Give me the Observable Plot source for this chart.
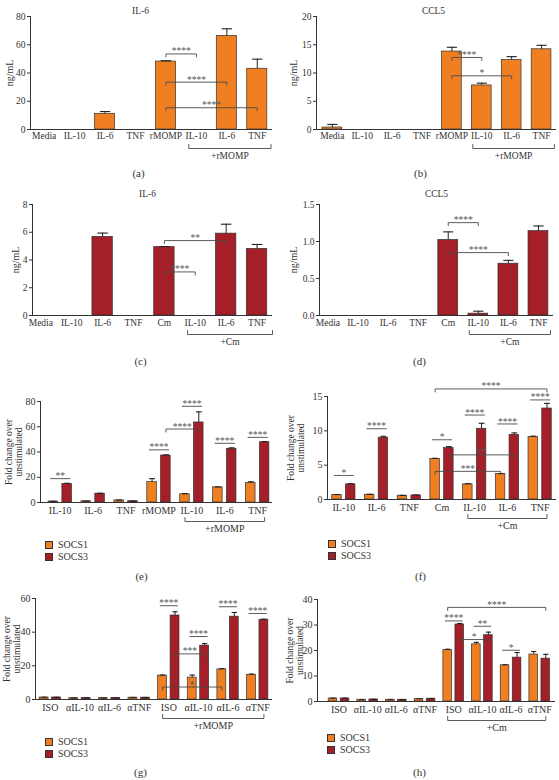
<!DOCTYPE html>
<html><head><meta charset="utf-8">
<script src="https://cdn.jsdelivr.net/npm/d3@7"></script>
<script src="https://cdn.jsdelivr.net/npm/@observablehq/plot@0.6"></script>
<style>
body{margin:0;background:#fff;}
#root{position:relative;width:559px;height:780px;overflow:hidden;font-family:"Liberation Serif",serif;color:#333;}
.panel{position:absolute;}
.legend{position:absolute;font-size:10px;line-height:12px;color:#333;}
.legend div{display:flex;align-items:center;height:12px;}
.legend span.sw{display:inline-block;width:6px;height:6px;border:1px solid #333;margin-right:5px;}
</style></head><body><div id="root"></div>
<script>
// ---------------- data ----------------
const catsRmomp = ["Media","IL-10","IL-6","TNF","rMOMP","IL-10","IL-6","TNF"];
const catsCm = ["Media","IL-10","IL-6","TNF","Cm","IL-10","IL-6","TNF"];
const il6Rmomp = [0, 0, 11.1, 0, 48.1, 0, 66.3, 43.0];
const il6RmompErr = [0, 0, 1.6, 0, 0.6, 0, 5.0, 6.8];
const ccl5Rmomp = [0.35, 0, 0, 0, 13.8, 7.8, 12.3, 14.2];
const ccl5RmompErr = [0.55, 0, 0, 0, 0.75, 0.4, 0.6, 0.7];
const il6Cm = [0, 0, 5.67, 0, 4.93, 0, 5.9, 4.8];
const il6CmErr = [0, 0, 0.27, 0, 0.04, 0, 0.68, 0.32];
const ccl5Cm = [0, 0, 0, 0, 1.02, 0.025, 0.70, 1.14];
const ccl5CmErr = [0, 0, 0, 0, 0.11, 0.033, 0.045, 0.07];

const groupsRmomp = ["IL-10","IL-6","TNF","rMOMP","IL-10","IL-6","TNF"];
const groupsCm = ["IL-10","IL-6","TNF","Cm","IL-10","IL-6","TNF"];
const socs1Rmomp = [0.8, 1.0, 1.7, 16.2, 6.5, 12.0, 15.4];
const socs1RmompErr = [0.1, 0.1, 0.2, 2.7, 0.5, 0.3, 1.0];
const socs3Rmomp = [14.7, 7.0, 1.0, 37.2, 63.4, 42.5, 47.7];
const socs3RmompErr = [0.5, 0.3, 0.1, 0.5, 8.4, 0.8, 0.6];
const socs1Cm = [0.67, 0.7, 0.55, 5.9, 2.2, 3.7, 9.1];
const socs1CmErr = [0.05, 0.05, 0.05, 0.1, 0.1, 0.08, 0.12];
const socs3Cm = [2.2, 9.0, 0.6, 7.5, 10.3, 9.4, 13.25];
const socs3CmErr = [0.1, 0.2, 0.05, 0.2, 0.8, 0.3, 0.75];

const groupsNeut = ["ISO","αIL-10","αIL-6","αTNF","ISO","αIL-10","αIL-6","αTNF"];
const socs1NeutRmomp = [1.2, 0.8, 0.8, 1.1, 14.2, 13.0, 17.9, 14.7];
const socs1NeutRmompErr = [0.1, 0.05, 0.05, 0.1, 0.3, 1.5, 0.4, 0.4];
const socs3NeutRmomp = [1.2, 0.9, 0.9, 1.1, 49.9, 32.0, 49.2, 47.4];
const socs3NeutRmompErr = [0.1, 0.05, 0.05, 0.1, 2.2, 1.2, 2.5, 0.3];
const socs1NeutCm = [1.2, 0.7, 0.7, 1.0, 20.2, 22.4, 14.2, 18.4];
const socs1NeutCmErr = [0.1, 0.05, 0.05, 0.05, 0.3, 0.8, 0.2, 1.2];
const socs3NeutCm = [1.2, 0.8, 0.7, 1.1, 30.2, 26.0, 17.2, 16.8];
const socs3NeutCmErr = [0.1, 0.05, 0.05, 0.05, 0.4, 1.2, 2.0, 1.7];

// significance brackets (values in y-units)
const bracketsA = [{from:4,to:5,y:53.5,label:"****"},{from:4,to:6,y:33.5,label:"****"},{from:4,to:7,y:15.4,label:"****"}];
const bracketsB = [{from:4,to:5,y:12.75,label:"****"},{from:4,to:6,y:9.5,label:"*"}];
const bracketsC = [{from:4,to:6,y:5.4,label:"**"},{from:4,to:5,y:3.14,label:"****"}];
const bracketsD = [{from:4,to:5,y:1.255,label:"****"},{from:4,to:6,y:0.85,label:"****"}];
const pairsE = [{group:0,y:18.9,label:"**"},{group:3,y:41.7,label:"****"},{group:4,y:76.2,label:"****"},{group:5,y:46.9,label:"****"},{group:6,y:51.6,label:"****"}];
const crossE = [{from:3,fromS:"SOCS3",to:4,toS:"SOCS3",y:58.2,label:"****"}];
const pairsF = [{group:0,y:3.5,label:"*"},{group:1,y:10.3,label:"****"},{group:3,y:8.7,label:"*"},{group:4,y:12.3,label:"****"},{group:5,y:11.0,label:"****"},{group:6,y:14.5,label:"****"}];
const crossF = [{from:3,fromS:"SOCS1",to:6,toS:"SOCS3",y:16.1,label:"****"},{from:3,fromS:"SOCS3",to:5,toS:"SOCS3",y:6.5,label:"**"},{from:3,fromS:"SOCS1",to:5,toS:"SOCS1",y:4.1,label:"***"}];
const pairsG = [{group:4,y:55.7,label:"****"},{group:5,y:37.4,label:"****"},{group:6,y:55.1,label:"****"},{group:7,y:51.1,label:"****"}];
const crossG = [{from:4,fromS:"SOCS3",to:5,toS:"SOCS3",y:27.1,label:"***"},{from:4,fromS:"SOCS1",to:6,toS:"SOCS1",y:7.4,label:"*"}];
const pairsH = [{group:4,y:31.6,label:"****"},{group:5,y:29.5,label:"**"},{group:6,y:20.1,label:"*"}];
const crossH = [{from:4,fromS:"SOCS1",to:7,toS:"SOCS3",y:36.9,label:"****"},{from:4,fromS:"SOCS3",to:5,toS:"SOCS3",y:24.3,label:"*"}];

const seriesNames = ["SOCS1","SOCS3"];

// ---------------- styling ----------------
const ORANGE = "#F07F22", RED = "#A41F27";
const seriesColor = {SOCS1: ORANGE, SOCS3: RED};
const seriesOffset = {SOCS1: -0.21, SOCS3: 0.21};
const INK = "#333", BR = "#4a4a4a";
const root = document.getElementById("root");

function singleBars(values, errs, color) {
  return values.map((v, i) => ({pos: i, value: v, err: errs[i], fill: color}));
}
function groupedBars(s1, e1, s3, e3) {
  return [
    ...s1.map((v, i) => ({pos: i + seriesOffset.SOCS1, value: v, err: e1[i], fill: seriesColor.SOCS1})),
    ...s3.map((v, i) => ({pos: i + seriesOffset.SOCS3, value: v, err: e3[i], fill: seriesColor.SOCS3}))
  ];
}
const singleBr = (arr) => arr.map(b => ({x1: b.from, x2: b.to, y: b.y, label: b.label, drop: true}));
const pairBr = (arr) => arr.map(b => ({x1: b.group - 0.3, x2: b.group + 0.3, y: b.y, label: b.label, drop: false}));
const crossBr = (arr) => arr.map(b => ({x1: b.from + seriesOffset[b.fromS], x2: b.to + seriesOffset[b.toS], y: b.y, label: b.label, drop: true}));

function drawPanel(c) {
  const innerH = c.height - c.mt - c.mb;
  const k = px => px * (c.yDomain[1] - c.yDomain[0]) / innerH;
  const bars = c.bars.filter(d => d.value > 0);
  const eb = c.bars.filter(d => d.err > 0);
  const brPts = c.brackets.flatMap((b, j) => {
    const d = b.drop ? k(3) : 0;
    return [{x: b.x1, y: b.y - d, id: j}, {x: b.x1, y: b.y, id: j}, {x: b.x2, y: b.y, id: j}, {x: b.x2, y: b.y - d, id: j}];
  });
  const span = c.groupSpan;
  const spanPts = [{x: span[0], y: k(4)}, {x: span[0], y: 0}, {x: span[1], y: 0}, {x: span[1], y: k(4)}];
  const marks = [
    Plot.ruleY([0], {stroke: INK, strokeWidth: 1}),
    Plot.rect(bars, {x1: d => d.pos - c.hw, x2: d => d.pos + c.hw, y1: 0, y2: "value", fill: "fill", stroke: "#333", strokeWidth: 0.7}),
    Plot.ruleX(eb, {x: "pos", y1: "value", y2: d => d.value + d.err, stroke: "#222", strokeWidth: 1}),
    Plot.link(eb, {x1: d => d.pos - c.cap, x2: d => d.pos + c.cap, y1: d => d.value + d.err, y2: d => d.value + d.err, stroke: "#222", strokeWidth: 1.1}),
    Plot.line(brPts, {x: "x", y: "y", z: "id", stroke: BR, strokeWidth: 0.9}),
    Plot.text(c.brackets, {x: d => (d.x1 + d.x2) / 2, y: "y", text: "label", lineAnchor: "middle", dy: -2.5, fill: "#555", fontSize: 9.5}),
    Plot.line(spanPts, {x: "x", y: "y", dy: 19, stroke: BR, strokeWidth: 0.9}),
    Plot.text([c.groupLabel], {x: (span[0] + span[1]) / 2, y: 0, text: d => d, dy: 26, lineAnchor: "middle", fill: INK, fontSize: c.tickFont}),
    Plot.text([c.yLabel], {frameAnchor: "left", dx: c.yLabelX - c.ml, rotate: -90, text: d => d, textAnchor: "middle", lineAnchor: "middle", lineHeight: 1.05, fill: INK, fontSize: c.yLabelFont}),
    Plot.text([c.letter], {frameAnchor: "top-left", dx: c.letterPos[0] - c.ml, dy: c.letterPos[1] - c.mt, text: d => d, textAnchor: "middle", lineAnchor: "middle", fill: INK, fontSize: 11})
  ];
  if (c.title) marks.push(Plot.text([c.title], {frameAnchor: "top-left", dx: c.titlePos[0] - c.ml, dy: c.titlePos[1] - c.mt, text: d => d, textAnchor: "middle", lineAnchor: "middle", fill: INK, fontSize: 9.5}));
  const chart = Plot.plot({
    width: c.width, height: c.height,
    marginLeft: c.ml, marginRight: c.mr, marginTop: c.mt, marginBottom: c.mb,
    style: {background: "transparent", overflow: "visible", fontFamily: "'Liberation Serif', serif", fontSize: c.tickFont + "px", color: INK},
    color: {type: "identity"},
    x: {type: "linear", domain: c.xDomain, ticks: c.labels.map((_, i) => i), tickFormat: i => c.labels[i], tickSize: 0, tickPadding: c.tickPad, label: null},
    y: {domain: c.yDomain, ticks: c.yTicks, tickFormat: c.yFormat || (d => d), tickSize: 3, tickPadding: 2, line: true, label: null},
    marks
  });
  const div = document.createElement("div");
  div.className = "panel";
  div.style.left = c.left + "px";
  div.style.top = c.top + "px";
  div.appendChild(chart);
  root.appendChild(div);
  if (c.legend) {
    const lg = document.createElement("div");
    lg.className = "legend";
    lg.style.left = (c.left + c.legend[0]) + "px";
    lg.style.top = (c.top + c.legend[1] - 6) + "px";
    seriesNames.forEach(s => {
      const row = document.createElement("div");
      const sw = document.createElement("span");
      sw.className = "sw";
      sw.style.background = seriesColor[s];
      row.appendChild(sw);
      row.appendChild(document.createTextNode(s));
      lg.appendChild(row);
    });
    root.appendChild(lg);
  }
}

const FOLD = "Fold change over\nunstimulated";

// (a)
drawPanel({left: 0, top: 0, width: 280, height: 180, ml: 30, mr: 8, mt: 16, mb: 51,
  xDomain: [-0.45, 7.5], yDomain: [0, 80], yTicks: [0, 20, 40, 60, 80], labels: catsRmomp,
  bars: singleBars(il6Rmomp, il6RmompErr, ORANGE), hw: 0.33, cap: 0.17,
  brackets: singleBr(bracketsA), groupSpan: [4.75, 7.45], groupLabel: "+rMOMP",
  title: "IL-6", titlePos: [140, 10], letter: "(a)", letterPos: [138, 173],
  yLabel: "ng/mL", yLabelX: 9, yLabelFont: 10, tickFont: 9.5, tickPad: 3});
// (b)
drawPanel({left: 280, top: 0, width: 279, height: 180, ml: 36, mr: 3, mt: 16, mb: 51,
  xDomain: [-0.53, 7.5], yDomain: [0, 20], yTicks: [0, 5, 10, 15, 20], labels: catsRmomp,
  bars: singleBars(ccl5Rmomp, ccl5RmompErr, ORANGE), hw: 0.33, cap: 0.17,
  brackets: singleBr(bracketsB), groupSpan: [4.7, 7.43], groupLabel: "+rMOMP",
  title: "CCL5", titlePos: [153, 10], letter: "(b)", letterPos: [140, 173],
  yLabel: "ng/mL", yLabelX: 13.5, yLabelFont: 10, tickFont: 9.5, tickPad: 3});
// (c)
drawPanel({left: 0, top: 180, width: 280, height: 190, ml: 32, mr: 8, mt: 24, mb: 55,
  xDomain: [-0.27, 7.5], yDomain: [0, 8], yTicks: [0, 2, 4, 6, 8], labels: catsCm,
  bars: singleBars(il6Cm, il6CmErr, RED), hw: 0.33, cap: 0.17,
  brackets: singleBr(bracketsC), groupSpan: [4.75, 7.5], groupLabel: "+Cm",
  title: "IL-6", titlePos: [147, 13], letter: "(c)", letterPos: [140, 181],
  yLabel: "ng/mL", yLabelX: 15, yLabelFont: 10, tickFont: 9.5, tickPad: 4});
// (d)
drawPanel({left: 280, top: 180, width: 279, height: 190, ml: 39, mr: 6, mt: 24, mb: 55,
  xDomain: [-0.28, 7.5], yDomain: [0, 1.5], yTicks: [0, 0.5, 1, 1.5], yFormat: d3.format(".1f"), labels: catsCm,
  bars: singleBars(ccl5Cm, ccl5CmErr, RED), hw: 0.33, cap: 0.17,
  brackets: singleBr(bracketsD), groupSpan: [4.7, 7.4], groupLabel: "+Cm",
  title: "CCL5", titlePos: [156, 13], letter: "(d)", letterPos: [139, 181],
  yLabel: "ng/mL", yLabelX: 13.5, yLabelFont: 10, tickFont: 9.5, tickPad: 4});
// (e)
drawPanel({left: 0, top: 360, width: 280, height: 222, ml: 40, mr: 8, mt: 41, mb: 80,
  xDomain: [-0.6, 6.45], yDomain: [0, 80], yTicks: [0, 20, 40, 60, 80], labels: groupsRmomp,
  bars: groupedBars(socs1Rmomp, socs1RmompErr, socs3Rmomp, socs3RmompErr), hw: 0.145, cap: 0.09,
  brackets: [...pairBr(pairsE), ...crossBr(crossE)], groupSpan: [3.79, 6.21], groupLabel: "+rMOMP",
  letter: "(e)", letterPos: [141, 216], legend: [45, 185],
  yLabel: FOLD, yLabelX: 13, yLabelFont: 9.5, tickFont: 10, tickPad: 4});
// (f)
drawPanel({left: 280, top: 360, width: 279, height: 222, ml: 47, mr: 3, mt: 36, mb: 83,
  xDomain: [-0.5, 6.5], yDomain: [0, 15], yTicks: [0, 5, 10, 15], labels: groupsCm,
  bars: groupedBars(socs1Cm, socs1CmErr, socs3Cm, socs3CmErr), hw: 0.145, cap: 0.09,
  brackets: [...pairBr(pairsF), ...crossBr(crossF)], groupSpan: [3.79, 6.21], groupLabel: "+Cm",
  letter: "(f)", letterPos: [140, 216], legend: [48, 184],
  yLabel: FOLD, yLabelX: 15, yLabelFont: 9.5, tickFont: 10, tickPad: 4});
// (g)
drawPanel({left: 0, top: 570, width: 280, height: 210, ml: 35, mr: 8, mt: 28, mb: 81,
  xDomain: [-0.5, 7.5], yDomain: [0, 60], yTicks: [0, 20, 40, 60], labels: groupsNeut,
  bars: groupedBars(socs1NeutRmomp, socs1NeutRmompErr, socs3NeutRmomp, socs3NeutRmompErr), hw: 0.15, cap: 0.09,
  brackets: [...pairBr(pairsG), ...crossBr(crossG)], groupSpan: [3.79, 7.21], groupLabel: "+rMOMP",
  letter: "(g)", letterPos: [140, 202], legend: [45, 172],
  yLabel: FOLD, yLabelX: 11.5, yLabelFont: 9.5, tickFont: 10, tickPad: 4});
// (h)
drawPanel({left: 280, top: 570, width: 279, height: 210, ml: 37, mr: 4, mt: 29, mb: 79,
  xDomain: [-0.75, 7.55], yDomain: [0, 40], yTicks: [0, 10, 20, 30, 40], labels: groupsNeut,
  bars: groupedBars(socs1NeutCm, socs1NeutCmErr, socs3NeutCm, socs3NeutCmErr), hw: 0.15, cap: 0.09,
  brackets: [...pairBr(pairsH), ...crossBr(crossH)], groupSpan: [3.79, 7.21], groupLabel: "+Cm",
  letter: "(h)", letterPos: [139, 202], legend: [47, 168],
  yLabel: FOLD, yLabelX: 14, yLabelFont: 9.5, tickFont: 10, tickPad: 4});
</script></body></html>
